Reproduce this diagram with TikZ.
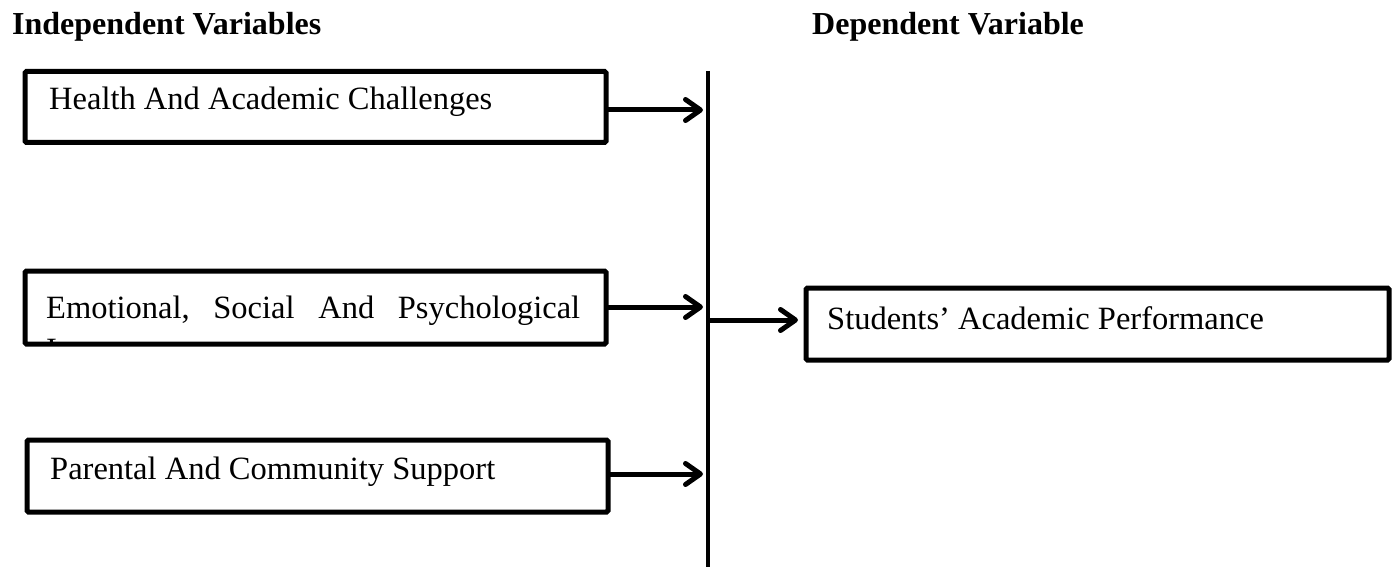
\documentclass[tikz,border=0pt]{standalone}
\usepackage{fontspec}
\setmainfont{Liberation Serif}
\usetikzlibrary{arrows.meta,calc}
\begin{document}
\begin{tikzpicture}[x=1pt,y=-1pt,
  box/.style={draw, line width=5pt, inner sep=0pt, outer sep=0pt, rounded corners=1.5pt},
  lbl/.style={anchor=base west, inner sep=0pt, font=\fontsize{32.5}{37}\selectfont},
  hdr/.style={anchor=base west, inner sep=0pt, font=\fontsize{32}{37}\selectfont\bfseries},
  arr/.style={line width=5pt, -{Straight Barb[length=15pt,width=21pt,round]}},
  barline/.style={line width=4.5pt}]
\useasboundingbox (0,0) rectangle (1393,567);
% headers
\node[hdr] (h1) at (12,35) {Independent Variables};
\node[hdr] (h2) at (812,35) {Dependent Variable};
% boxes
\node[box, minimum width=581, minimum height=71] (b1) at (315.5,107) {};
\node[box, minimum width=581, minimum height=73] (b2) at (315.5,307.5) {};
\node[box, minimum width=581, minimum height=72] (b3) at (317.5,476) {};
\node[box, minimum width=583, minimum height=72] (b4) at (1097.5,324) {};
% texts
\node[lbl] (t1) at (49,110) {Health And Academic Challenges};
\node[lbl] (t2) at (46,318) {\hbox to 534pt{Emotional,\hfill Social\hfill And\hfill Psychological}};
\begin{scope}
  \clip ($(b2.south west)+(2.5,-2.5)$) rectangle ($(b2.north east)+(-2.5,2.5)$);
  \node[lbl] (t2b) at (46,360) {Issues};
\end{scope}
\node[lbl] (t3) at (50,479) {Parental And Community Support};
\node[lbl] (t4) at (827,329) {Students’ Academic Performance};
% vertical bar
\coordinate (bartop) at (708,71);
\coordinate (barbot) at (708,567);
\draw[barline] (bartop) -- (barbot);
% arrow heights
\coordinate (a1) at (0,110);
\coordinate (a2) at (0,307);
\coordinate (a3) at (0,474);
\coordinate (a4) at (0,320);
\draw[arr, shorten >=5pt] (b1.east |- a1) -- (bartop |- a1);
\draw[arr, shorten >=5pt] (b2.east |- a2) -- (bartop |- a2);
\draw[arr, shorten >=5pt] (b3.east |- a3) -- (bartop |- a3);
\draw[arr, shorten >=8pt] (bartop |- a4) -- (b4.west |- a4);
\end{tikzpicture}
\end{document}
